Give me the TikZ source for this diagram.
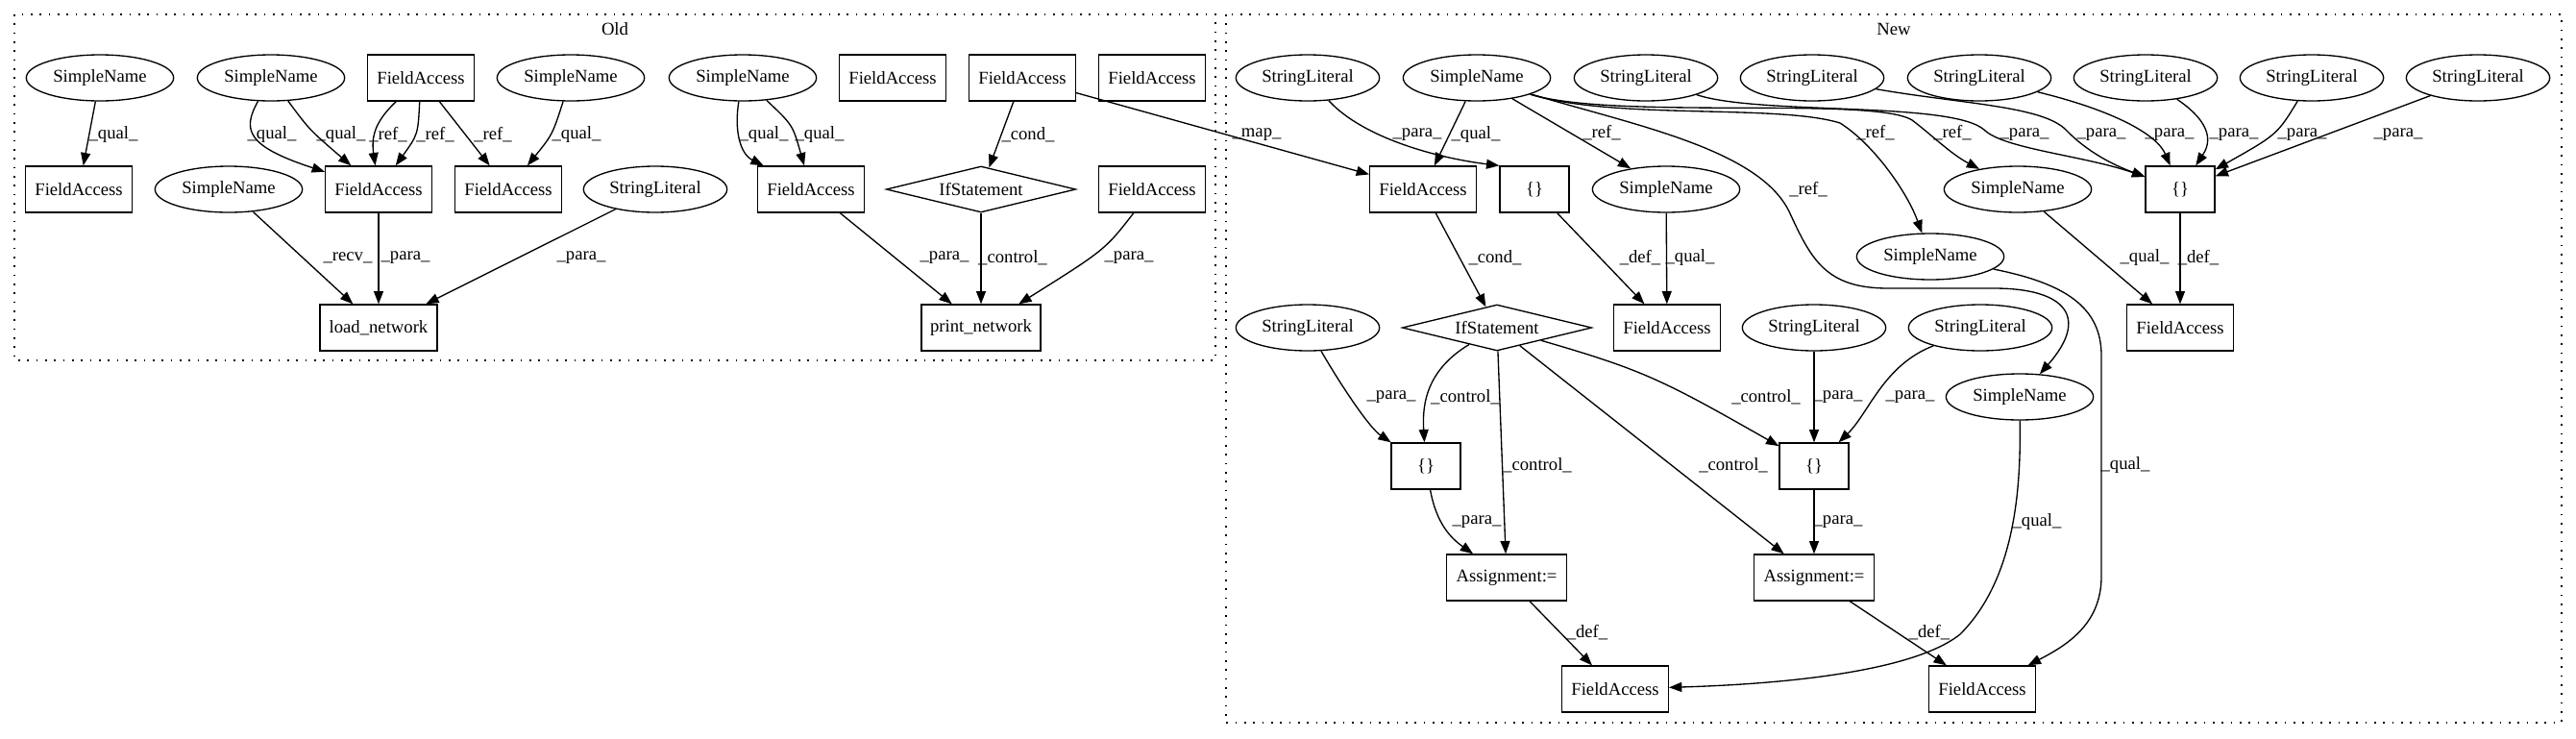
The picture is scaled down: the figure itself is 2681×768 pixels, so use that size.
\documentclass[tikz,border=0pt]{standalone}
\usepackage{fontspec}
\setmainfont{Liberation Serif}
\usetikzlibrary{shapes.geometric,arrows.meta}
\begin{document}
\begin{tikzpicture}[x=0.75pt,y=-0.75pt,
  every node/.style={font=\fontsize{14pt}{16pt}\selectfont},
  sname/.style={ellipse,draw,line width=1pt,minimum width=115pt,minimum height=36pt,inner sep=0pt},
  slit/.style={ellipse,draw,line width=1pt,minimum width=112pt,minimum height=36pt,inner sep=0pt},
  fbox/.style={rectangle,draw,line width=1pt,minimum width=83pt,minimum height=36pt,inner sep=0pt},
  brbox/.style={fbox,minimum width=54pt},
  ifnode/.style={diamond,draw,line width=1pt,minimum width=148pt,minimum height=36pt,inner sep=0pt,aspect=4},
  conn/.style={draw,line width=1pt,-{Triangle[length=10pt,width=7.5pt]}},
  lbl/.style={inner sep=0pt},
  cluster/.style={draw,line width=1pt,dash pattern=on 1.2pt off 5.8pt}
]
\useasboundingbox (0,0) rectangle (2681,768);
% clusters
\draw[cluster] (15,15) rectangle (1265,375);
\draw[cluster] (1276,15) rectangle (2666,752);
\node (oldlbl) at (640,30) {Old};
\node (newlbl) at (1971,30) {New};

% ---------- Old nodes ----------
\node[sname] (sn1) at (104,81) {SimpleName};
\node[fbox] (fa1) at (82,197) {FieldAccess};
\node[sname] (sn2) at (282,81) {SimpleName};
\node[fbox] (fatop) at (438,81) {FieldAccess};
\node[sname] (sn3) at (594,81) {SimpleName};
\node[sname] (sn4) at (238,197) {SimpleName};
\node[fbox] (fa2) at (394,197) {FieldAccess};
\node[fbox] (fa3) at (529,197) {FieldAccess};
\node[slit] (sl1) at (682,197) {StringLiteral};
\node[fbox,minimum width=91.5pt] (load) at (394,341) {load\_network};
\node[sname] (sn5) at (773,81) {SimpleName};
\node[fbox] (fa4) at (929,81) {FieldAccess};
\node[fbox] (fa5) at (1064,81) {FieldAccess};
\node[fbox] (fa6) at (1199,81) {FieldAccess};
\node[fbox] (fa7) at (844,197) {FieldAccess};
\node[ifnode] (if1) at (1021,197) {IfStatement};
\node[fbox] (fa8) at (1199,197) {FieldAccess};
\node[fbox,minimum width=93pt] (print) at (1021,341) {print\_network};

% ---------- New nodes ----------
\node[slit] (sla) at (1361,81) {StringLiteral};
\node[sname] (snm) at (1537,81) {SimpleName};
\node[slit] (slb) at (1713,81) {StringLiteral};
\node[slit] (slc) at (1886,81) {StringLiteral};
\node[slit] (slf) at (2060,81) {StringLiteral};
\node[slit] (slg) at (2233,81) {StringLiteral};
\node[slit] (slh) at (2406,81) {StringLiteral};
\node[slit] (sli) at (2579,81) {StringLiteral};
\node[fbox] (fac) at (1481,197) {FieldAccess};
\node[brbox] (br1) at (1597,197) {\{\}};
\node[sname] (snb) at (1734,197) {SimpleName};
\node[sname] (snc) at (2100,197) {SimpleName};
\node[brbox] (br2) at (2269,197) {\{\}};
\node[sname] (snd) at (2009,267) {SimpleName};
\node[slit] (sld) at (1361,341) {StringLiteral};
\node[ifnode] (if2) at (1558,341) {IfStatement};
\node[fbox] (fad) at (1735,341) {FieldAccess};
\node[slit] (sle) at (1888,341) {StringLiteral};
\node[slit] (slj) at (2061,341) {StringLiteral};
\node[fbox] (fae) at (2269,341) {FieldAccess};
\node[sname] (sne) at (2102,413) {SimpleName};
\node[brbox] (br3) at (1484,485) {\{\}};
\node[brbox] (br4) at (1888,485) {\{\}};
\node[fbox,minimum width=94pt] (as1) at (1568,601) {Assignment:=};
\node[fbox,minimum width=94pt] (as2) at (1888,601) {Assignment:=};
\node[fbox] (fag) at (1681,717) {FieldAccess};
\node[fbox] (faf) at (2063,717) {FieldAccess};

% ---------- Old edges ----------
\draw[conn] (sn1) -- (fa1);
\draw[conn] (sn2) .. controls (252,135) and (256,152) .. (fa2);
\draw[conn] (sn2) .. controls (322,135) .. (fa2);
\draw[conn] (fatop) .. controls (392,125) and (386,140) .. (fa2);
\draw[conn] (fatop) .. controls (435,140) .. (fa2);
\draw[conn] (fatop) -- (fa3);
\draw[conn] (sn3) .. controls (575,140) .. (fa3);
\draw[conn] (sn4) -- (load);
\draw[conn] (fa2) -- (load);
\draw[conn] (sl1) -- (load);
\draw[conn] (sn5) .. controls (764,135) and (770,160) .. (fa7);
\draw[conn] (sn5) .. controls (825,130) .. (fa7);
\draw[conn] (fa5) -- (if1);
\draw[conn] (fa5) -- (fac);
\draw[conn] (fa7) -- (print);
\draw[conn] (if1) -- (print);
\draw[conn] (fa8) .. controls (1150,260) .. (print);

% ---------- New edges ----------
\draw[conn] (sla) .. controls (1420,145) and (1500,165) .. (br1.north west);
\draw[conn] (snm) -- (fac);
\draw[conn] (snm) -- (snb);
\draw[conn] (snm) .. controls (1700,130) and (1830,155) .. (1862,220) .. controls (1885,270) and (1900,300) .. (1965,300) -- (2075,300) .. controls (2150,300) and (2175,330) .. (sne);
\draw[conn] (snm) .. controls (1680,125) and (1850,108) .. (1915,128) .. controls (1950,150) and (1985,200) .. (snd);
\draw[conn] (snm) .. controls (1680,125) and (1950,100) .. (1990,125) .. controls (2010,140) and (2030,160) .. (snc);
\draw[conn] (slb) .. controls (1830,120) and (2030,105) .. (2065,135) .. controls (2085,155) and (2170,162) .. (br2);
\draw[conn] (slc) .. controls (2040,108) and (2125,110) .. (2150,135) .. controls (2172,158) and (2200,172) .. (br2);
\draw[conn] (slf) .. controls (2200,115) and (2245,140) .. (br2);
\draw[conn] (slg) .. controls (2305,130) and (2300,150) .. (br2);
\draw[conn] (slh) .. controls (2370,140) .. (br2);
\draw[conn] (sli) -- (br2);
\draw[conn] (br2) -- (fae);
\draw[conn] (snc) -- (fae);
\draw[conn] (fac) -- (if2);
\draw[conn] (br1) -- (fad);
\draw[conn] (snb) -- (fad);
\draw[conn] (snd) .. controls (2150,295) and (2187,320) .. (2187,370) -- (2187,600) .. controls (2187,650) and (2150,672) .. (faf);
\draw[conn] (sne) .. controls (2103,500) and (2100,600) .. (2040,660) .. controls (1990,700) and (1850,712) .. (fag);
\draw[conn] (sld) .. controls (1395,400) and (1425,445) .. (br3);
\draw[conn] (if2) .. controls (1485,385) and (1480,420) .. (br3);
\draw[conn] (if2) -- (as1);
\draw[conn] (if2) -- (as2);
\draw[conn] (if2) .. controls (1710,385) and (1730,395) .. (br4);
\draw[conn] (sle) -- (br4);
\draw[conn] (slj) .. controls (1960,380) and (1945,430) .. (br4);
\draw[conn] (br3) .. controls (1495,545) and (1510,560) .. (as1);
\draw[conn] (br4) -- (as2);
\draw[conn] (as1) -- (fag);
\draw[conn] (as2) -- (faf);

% ---------- Old labels ----------
\node[lbl] (o1) at (118,140) {\_qual\_};
\node[lbl] (o2) at (283,140) {\_qual\_};
\node[lbl] (o3) at (355,140) {\_qual\_};
\node[lbl] (o4) at (404,140) {\_ref\_};
\node[lbl] (o5) at (453,140) {\_ref\_};
\node[lbl] (o6) at (513,140) {\_ref\_};
\node[lbl] (o7) at (600,140) {\_qual\_};
\node[lbl] (o8) at (362,268) {\_recv\_};
\node[lbl] (o9) at (422,268) {\_para\_};
\node[lbl] (o10) at (605,268) {\_para\_};
\node[lbl] (o11) at (795,140) {\_qual\_};
\node[lbl] (o12) at (853,140) {\_qual\_};
\node[lbl] (o13) at (1070,140) {\_cond\_};
\node[lbl] (o14) at (983,268) {\_para\_};
\node[lbl] (o15) at (1054,268) {\_control\_};
\node[lbl] (o16) at (1175,268) {\_para\_};

% ---------- New labels ----------
\node[lbl] (n1) at (1308,140) {\_map\_};
\node[lbl] (n2) at (1475,140) {\_para\_};
\node[lbl] (n3) at (1536,140) {\_qual\_};
\node[lbl] (n4) at (1667,138) {\_ref\_};
\node[lbl] (n5) at (1882,197) {\_ref\_};
\node[lbl] (n6) at (1952,138) {\_ref\_};
\node[lbl] (n7) at (2032,138) {\_ref\_};
\node[lbl] (n8) at (2107,140) {\_para\_};
\node[lbl] (n9) at (2187,140) {\_para\_};
\node[lbl] (n10) at (2258,140) {\_para\_};
\node[lbl] (n11) at (2325,140) {\_para\_};
\node[lbl] (n12) at (2396,140) {\_para\_};
\node[lbl] (n13) at (2496,140) {\_para\_};
\node[lbl] (n14) at (1556,268) {\_cond\_};
\node[lbl] (n15) at (1707,268) {\_def\_};
\node[lbl] (n16) at (1759,268) {\_qual\_};
\node[lbl] (n17) at (2232,268) {\_qual\_};
\node[lbl] (n18) at (2288,268) {\_def\_};
\node[lbl] (n19) at (2212,484) {\_qual\_};
\node[lbl] (n20) at (2120,543) {\_qual\_};
\node[lbl] (n21) at (1448,413) {\_para\_};
\node[lbl] (n22) at (1525,413) {\_control\_};
\node[lbl] (n23) at (1600,484) {\_control\_};
\node[lbl] (n24) at (1804,484) {\_control\_};
\node[lbl] (n25) at (1838,413) {\_control\_};
\node[lbl] (n26) at (1913,413) {\_para\_};
\node[lbl] (n27) at (1988,413) {\_para\_};
\node[lbl] (n28) at (1537,543) {\_para\_};
\node[lbl] (n29) at (1913,543) {\_para\_};
\node[lbl] (n30) at (1652,658) {\_def\_};
\node[lbl] (n31) at (2008,658) {\_def\_};
\end{tikzpicture}
\end{document}
